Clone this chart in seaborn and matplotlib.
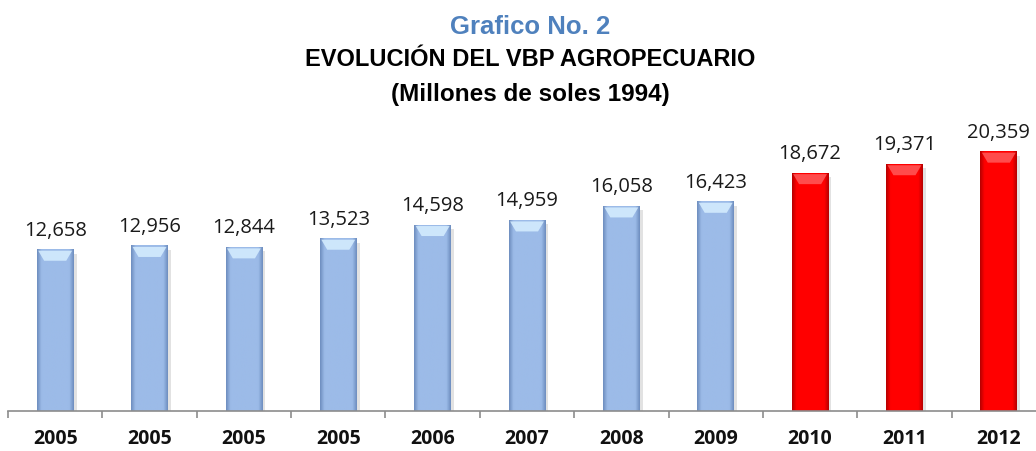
import numpy as np
import pandas as pd
import matplotlib.pyplot as plt
import seaborn as sns
from matplotlib.colors import to_rgb
from matplotlib.patches import Polygon

# Chart data
years = ['2005', '2005', '2005', '2005', '2006', '2007', '2008', '2009', '2010', '2011', '2012']
values = [12658, 12956, 12844, 13523, 14598, 14959, 16058, 16423, 18672, 19371, 20359]
bar_colors = ['#9CBBE8'] * 8 + ['#FF0000'] * 3

df = pd.DataFrame({'pos': [str(i) for i in range(len(years))], 'Year': years, 'VBP': values})

sns.set_style("white")
plt.rcParams['font.family'] = ['Liberation Sans', 'DejaVu Sans']

fig = plt.figure(figsize=(10.36, 4.51), dpi=100)
ax = fig.add_axes([8 / 1036, 40 / 451, 1038 / 1036, 300 / 451])

sns.barplot(data=df, x='pos', y='VBP', hue='pos', palette=bar_colors, legend=False,
            width=0.39, linewidth=0, saturation=1, ax=ax)

ymax = 23550
px = ymax / 300  # data units per pixel

# bevel shading on every bar (edges darker, lighter top)
for p, c in zip(ax.patches, bar_colors):
    x0, y0, w, h = p.get_x(), p.get_y(), p.get_width(), p.get_height()
    base = np.array(to_rgb(c))
    blue = c != '#FF0000'
    edge = np.array(to_rgb('#6F8FC0' if blue else '#B80000'))
    t = np.linspace(0, 1, 60)
    k = np.clip(np.minimum(t, 1 - t) / 0.12, 0, 1)[:, None]
    grad = edge * (1 - k) + base * k
    ax.imshow(grad[None, :, :], extent=(x0, x0 + w, y0, y0 + h), aspect='auto',
              clip_path=p, zorder=p.get_zorder() + 0.1)
    # shadow
    ax.add_patch(plt.Rectangle((x0 + w, y0), w * 0.08, h - 4 * px, color='#E2E2E2',
                               zorder=p.get_zorder() - 0.1, lw=0))
    top = y0 + h
    bev = 11 * px
    inset = w * 0.2
    light = '#D6EEFF' if blue else '#FF5A5A'
    ax.add_patch(Polygon([(x0 + w * 0.04, top - px), (x0 + w * 0.96, top - px),
                          (x0 + w - inset, top - bev), (x0 + inset, top - bev)],
                         closed=True, color=light, lw=0, alpha=0.85, zorder=p.get_zorder() + 0.2))

ax.set_ylim(0, ymax)
ax.set_xlim(-0.5, len(years) - 0.5)

# value labels
for i, v in enumerate(values):
    ax.annotate(f'{v:,}', (i, v), xytext=(0, 6.5), textcoords='offset points',
                ha='center', va='bottom', fontsize=14.5,
                family=['Open Sans', 'DejaVu Sans'], color='#1A1A1A')

# axis styling
for s in ['top', 'right', 'left']:
    ax.spines[s].set_visible(False)
ax.spines['bottom'].set_color('#8C8C8C')
ax.spines['bottom'].set_linewidth(1.2)
ax.set_yticks([])
ax.set_xticks(range(len(years)))
ax.set_xticklabels(years, fontsize=14, fontweight='bold', family=['Open Sans', 'DejaVu Sans'], color='#111111')
ax.tick_params(axis='x', which='major', length=0, pad=13)
ax.set_xticks([i - 0.5 for i in range(len(years) + 1)], minor=True)
ax.tick_params(axis='x', which='minor', length=5, width=1.2, color='#8C8C8C', direction='out', bottom=True)
ax.set_xlabel('')
ax.set_ylabel('')

# titles
fig.text(530 / 1036, 1 - 27 / 451, 'Grafico No. 2', ha='center', va='center', fontsize=18.5,
         fontweight='bold', color='#4F81BD')
fig.text(530 / 1036, 1 - 60 / 451, 'EVOLUCIÓN DEL VBP AGROPECUARIO', ha='center', va='center',
         fontsize=17, fontweight='bold', color='black')
fig.text(530 / 1036, 1 - 94 / 451, '(Millones de soles 1994)', ha='center', va='center',
         fontsize=17.5, fontweight='bold', color='black')

fig.savefig('out.png', dpi=100)
